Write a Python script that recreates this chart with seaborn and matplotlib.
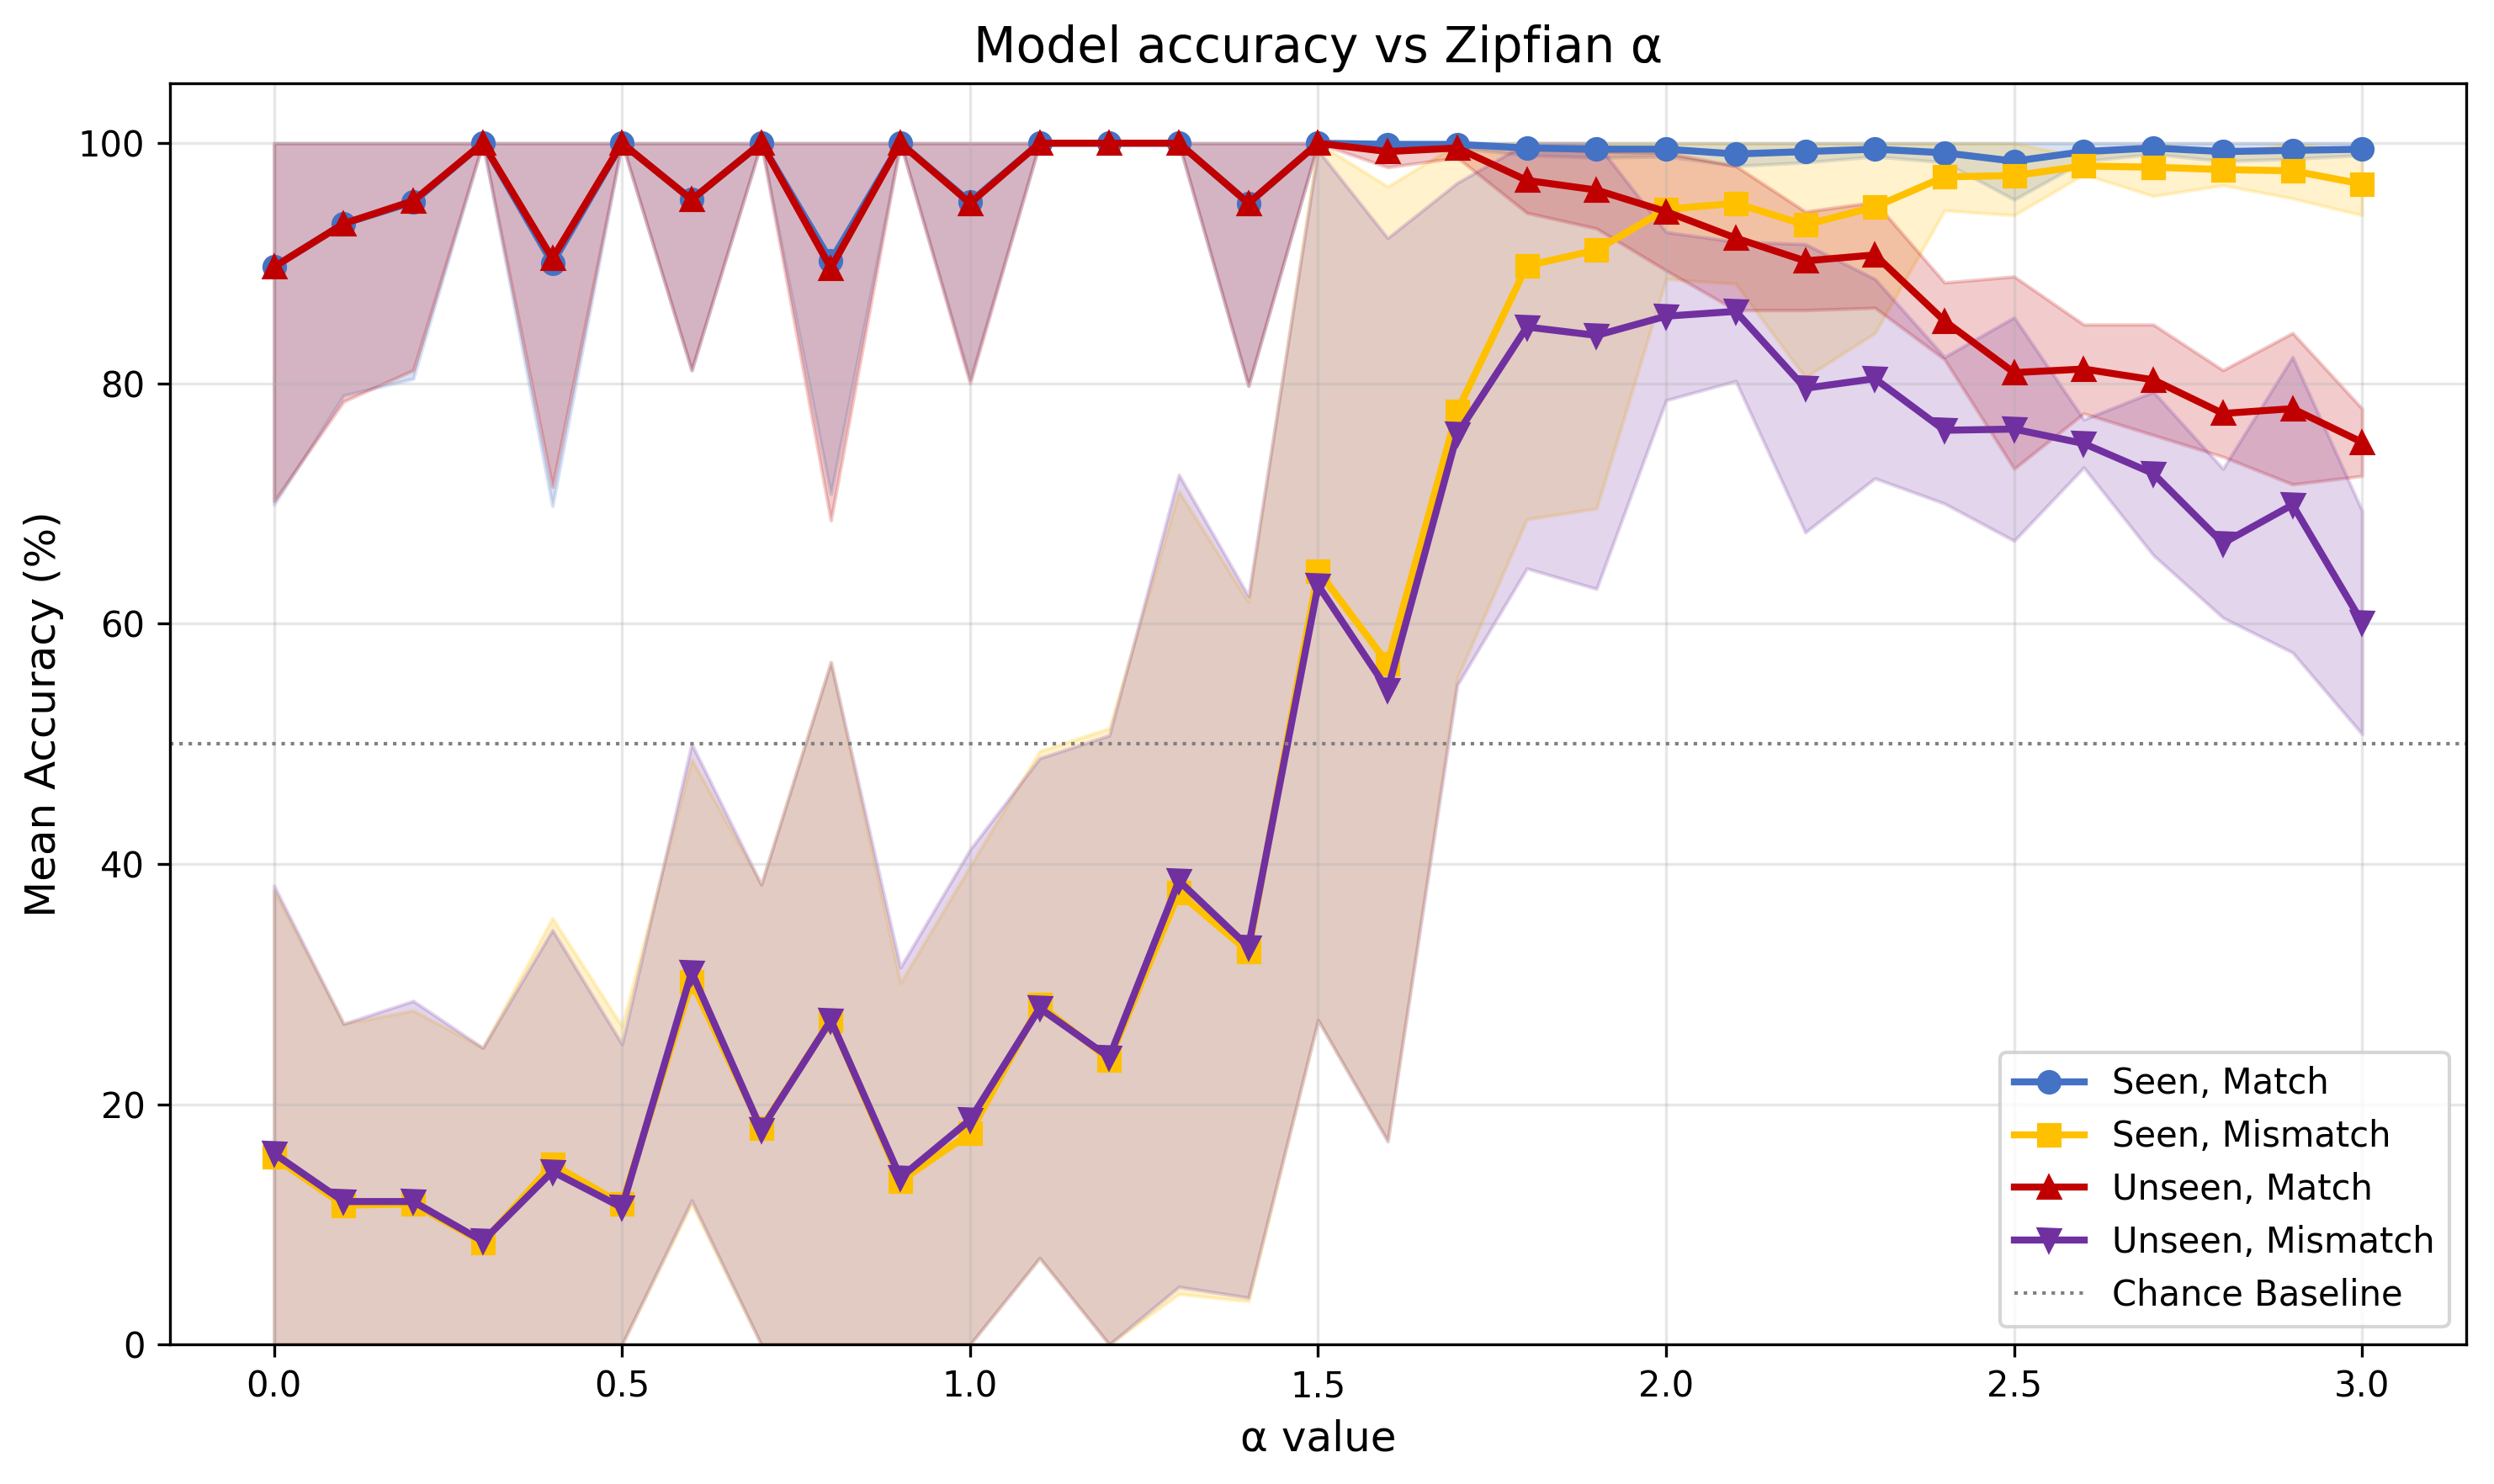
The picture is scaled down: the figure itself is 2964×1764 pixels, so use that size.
"""
Model accuracy vs Zipfian alpha, mean +/- std bands.
"""

import numpy as np
import matplotlib
matplotlib.use("Agg")
import matplotlib.pyplot as plt
import seaborn as sns

# Alpha values
alpha = [0.0, 0.1, 0.2, 0.3, 0.4, 0.5, 0.6, 0.7, 0.8, 0.9,
         1.0, 1.1, 1.2, 1.3, 1.4, 1.5, 1.6, 1.7, 1.8, 1.9,
         2.0, 2.1, 2.2, 2.3, 2.4, 2.5, 2.6, 2.7, 2.8, 2.9, 3.0]

# Mean accuracy (%) and std per condition
seen_match_mean = [89.7, 93.3, 95.1, 100, 90.0, 100, 95.3, 100, 90.2, 100,
                   95.1, 100, 100, 100, 95.0, 100, 99.9, 99.9, 99.6, 99.5,
                   99.5, 99.1, 99.3, 99.5, 99.2, 98.5, 99.3, 99.6, 99.3, 99.4, 99.5]
seen_match_std = [19.8, 14.3, 14.7, 0, 20.2, 0, 14.2, 0, 19.4, 0,
                  14.8, 0, 0, 0, 15.2, 0, 0.4, 0.3, 0.6, 0.7,
                  0.6, 1.0, 0.9, 0.6, 0.8, 3.2, 0.8, 0.5, 0.8, 0.7, 0.5]

seen_mismatch_mean = [15.6, 11.6, 11.7, 8.5, 15.0, 11.7, 30.2, 18.0, 27.0, 13.6,
                      17.6, 28.3, 23.7, 37.6, 32.7, 64.4, 56.7, 77.7, 89.8, 91.1,
                      94.5, 95.0, 93.2, 94.7, 97.2, 97.3, 98.1, 98.0, 97.8, 97.7, 96.6]
seen_mismatch_std = [22.2, 15.1, 16.1, 16.2, 20.5, 14.8, 18.5, 20.3, 29.8, 16.5,
                     22.2, 21.1, 27.6, 33.4, 29.1, 37.4, 39.7, 22.2, 21.1, 21.5,
                     5.8, 6.7, 12.7, 10.5, 2.8, 3.3, 0.7, 2.4, 1.3, 2.3, 2.6]

unseen_match_mean = [89.7, 93.3, 95.2, 100, 90.4, 100, 95.3, 100, 89.6, 100,
                     95.0, 100, 100, 100, 95.0, 100, 99.3, 99.6, 96.9, 96.1,
                     94.3, 92.1, 90.2, 90.7, 85.2, 80.9, 81.2, 80.3, 77.5, 77.9, 75.1]
unseen_match_std = [19.5, 14.8, 14.1, 0, 19.0, 0, 14.2, 0, 21.0, 0,
                    15.0, 0, 0, 0, 15.2, 0, 1.3, 0.8, 2.7, 3.2,
                    4.9, 6.0, 4.1, 4.4, 3.2, 8.0, 3.7, 4.6, 3.6, 6.3, 2.8]

unseen_mismatch_mean = [15.9, 11.9, 11.9, 8.6, 14.4, 11.4, 31.0, 17.9, 27.0, 13.9,
                        18.7, 28.0, 23.9, 38.6, 33.1, 63.2, 54.5, 75.8, 84.7, 84.0,
                        85.6, 86.0, 79.6, 80.4, 76.1, 76.2, 75.0, 72.5, 66.7, 69.9, 60.1]
unseen_mismatch_std = [22.3, 14.8, 16.7, 16.1, 20.1, 13.6, 19.0, 20.4, 29.8, 17.5,
                       22.5, 20.8, 26.8, 33.8, 29.2, 36.2, 37.6, 20.9, 20.1, 21.1,
                       7.0, 5.8, 12.0, 8.3, 6.1, 9.3, 2.0, 6.8, 6.2, 12.3, 9.3]

series = [
    ("Seen, Match", seen_match_mean, seen_match_std, "#4472C4", "o"),
    ("Seen, Mismatch", seen_mismatch_mean, seen_mismatch_std, "#FFC000", "s"),
    ("Unseen, Match", unseen_match_mean, unseen_match_std, "#C00000", "^"),
    ("Unseen, Mismatch", unseen_mismatch_mean, unseen_mismatch_std, "#7030A0", "v"),
]

fig, ax = plt.subplots(figsize=(9.88, 5.88), dpi=300)

x = np.array(alpha)
for label, mean, std, color, marker in series:
    mean = np.array(mean)
    std = np.array(std)
    sns.lineplot(x=x, y=mean, color=color, marker=marker, markersize=6,
                 markeredgecolor=color, markeredgewidth=1, linewidth=2,
                 label=label, ax=ax)
    ax.fill_between(x, np.clip(mean - std, 0, 100), np.clip(mean + std, 0, 100),
                    color=color, alpha=0.2)

# Chance baseline
ax.axhline(50, color="gray", linestyle=":", linewidth=1, label="Chance Baseline")

ax.set_ylim(0, 105)
ax.set_xlabel("α value", fontsize=12)
ax.set_ylabel("Mean Accuracy (%)", fontsize=12)
ax.set_title("Model accuracy vs Zipfian α", fontsize=14)
ax.grid(True, alpha=0.3)
ax.legend(loc="lower right")

fig.subplots_adjust(left=0.068, right=0.989, top=0.944, bottom=0.094)
plt.savefig("out.png", dpi=300)
